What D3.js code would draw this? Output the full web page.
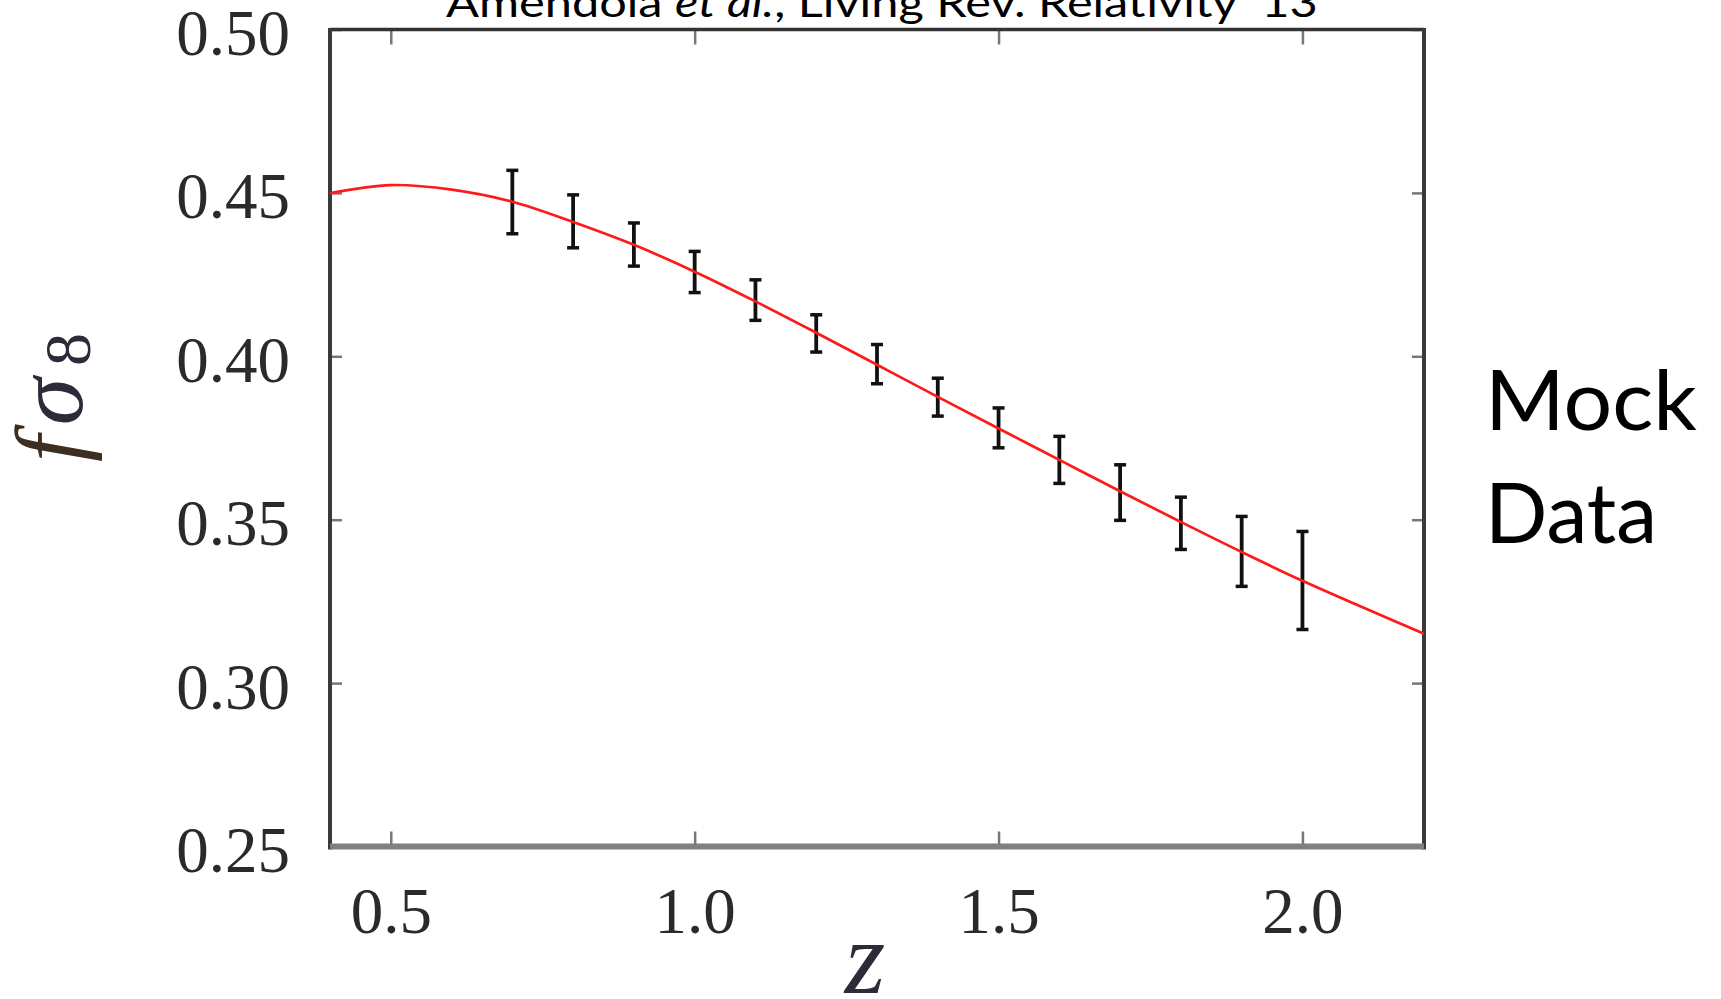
<!DOCTYPE html>
<html>
<head>
<meta charset="utf-8">
<script src="https://cdn.jsdelivr.net/npm/d3@7"></script>
<style>
  html, body { margin: 0; padding: 0; background: #fff; overflow: hidden; }
  text { white-space: pre; }
</style>
</head>
<body>
<div id="chart"></div>
<script>
// theory curve (red), every 0.1 in z
const z_theory = [0.4, 0.5, 0.6, 0.7, 0.8, 0.9, 1.0, 1.1, 1.2, 1.3, 1.4, 1.5, 1.6, 1.7, 1.8, 1.9, 2.0, 2.1, 2.2];
const fs8_theory = [0.4499, 0.4524, 0.4510, 0.4473, 0.4411, 0.4341, 0.4259, 0.4168, 0.4072, 0.3974, 0.3876, 0.3779, 0.3683, 0.3587, 0.3493, 0.3401, 0.3313, 0.3231, 0.3151];

// mock data points with error bars
const z_mock = [0.7, 0.8, 0.9, 1.0, 1.1, 1.2, 1.3, 1.4, 1.5, 1.6, 1.7, 1.8, 1.9, 2.0];
const fs8_mock = [0.4472, 0.4413, 0.4342, 0.4258, 0.4172, 0.4070, 0.3976, 0.3875, 0.3781, 0.3683, 0.3583, 0.3489, 0.3403, 0.3314];
const fs8_err = [0.0097, 0.0081, 0.0066, 0.0063, 0.0062, 0.0057, 0.0060, 0.0058, 0.0061, 0.0072, 0.0085, 0.0080, 0.0107, 0.0150];

const x_ticks = [0.5, 1.0, 1.5, 2.0];
const y_ticks = [0.25, 0.30, 0.35, 0.40, 0.45, 0.50];

const width = 1721;
const height = 999;
const plot = { left: 330, right: 1424, top: 29.5, bottom: 846.5 };

const x_scale = d3.scaleLinear()
  .domain([0.4, 2.2])
  .range([plot.left, plot.right]);
const y_scale = d3.scaleLinear()
  .domain([0.25, 0.50])
  .range([plot.bottom, plot.top]);

const svg = d3.select('#chart')
  .append('svg')
    .attr('width', width)
    .attr('height', height);

svg.append('defs').append('clipPath')
    .attr('id', 'plot-clip')
  .append('rect')
    .attr('x', plot.left)
    .attr('y', plot.top)
    .attr('width', plot.right - plot.left)
    .attr('height', plot.bottom - plot.top);

// Axes, ticks pointing inward on all four sides
const serif = '"Liberation Serif", "DejaVu Serif", serif';

svg.append('g')
    .attr('class', 'x-axis')
    .attr('transform', `translate(0,${plot.bottom})`)
    .call(d3.axisBottom(x_scale).tickValues(x_ticks).tickSize(-15).tickPadding(40)
      .tickFormat(d3.format('.1f')));
svg.append('g')
    .attr('class', 'x-axis-top')
    .attr('transform', `translate(0,${plot.top})`)
    .call(d3.axisTop(x_scale).tickValues(x_ticks).tickSize(-15).tickFormat(''));
svg.append('g')
    .attr('class', 'y-axis')
    .attr('transform', `translate(${plot.left},0)`)
    .call(d3.axisLeft(y_scale).tickValues(y_ticks).tickSize(-12).tickPadding(40)
      .tickFormat(d3.format('.2f')));
svg.append('g')
    .attr('class', 'y-axis-right')
    .attr('transform', `translate(${plot.right},0)`)
    .call(d3.axisRight(y_scale).tickValues(y_ticks).tickSize(-12).tickFormat(''));

svg.selectAll('.domain').remove();
svg.selectAll('.tick line')
    .attr('stroke', '#777')
    .attr('stroke-width', 2.5);
svg.selectAll('.tick text')
    .attr('font-family', serif)
    .attr('font-size', 65)
    .attr('fill', '#2a2a2a');
svg.selectAll('.y-axis .tick text').attr('dy', '0.385em');
svg.selectAll('.x-axis .tick text').attr('dy', '0.71em');

// frame
const frame = [
  { x1: plot.left, y1: plot.top, x2: plot.right, y2: plot.top, w: 3.5, c: '#333' },
  { x1: plot.left, y1: plot.top - 1.5, x2: plot.left, y2: plot.bottom + 3, w: 4, c: '#3a3a3a' },
  { x1: plot.right, y1: plot.top - 1.5, x2: plot.right, y2: plot.bottom + 3, w: 4, c: '#3a3a3a' },
  { x1: plot.left, y1: plot.bottom, x2: plot.right, y2: plot.bottom, w: 6, c: '#808080' }
];
svg.selectAll('.frame')
    .data(frame)
  .join('line')
    .attr('class', 'frame')
    .attr('x1', d => d.x1).attr('y1', d => d.y1)
    .attr('x2', d => d.x2).attr('y2', d => d.y2)
    .attr('stroke', d => d.c)
    .attr('stroke-width', d => d.w);

// error bars
const cap = 6;
const bars = svg.append('g').attr('class', 'bars');
const points = z_mock.map((z, i) => ({ z, v: fs8_mock[i], e: fs8_err[i] }));
bars.selectAll('.stem')
    .data(points)
  .join('line')
    .attr('class', 'stem')
    .attr('x1', d => x_scale(d.z)).attr('x2', d => x_scale(d.z))
    .attr('y1', d => y_scale(d.v + d.e)).attr('y2', d => y_scale(d.v - d.e))
    .attr('stroke', '#111')
    .attr('stroke-width', 3.8);
bars.selectAll('.cap-top')
    .data(points)
  .join('line')
    .attr('class', 'cap-top')
    .attr('x1', d => x_scale(d.z) - cap).attr('x2', d => x_scale(d.z) + cap)
    .attr('y1', d => y_scale(d.v + d.e)).attr('y2', d => y_scale(d.v + d.e))
    .attr('stroke', '#111')
    .attr('stroke-width', 3.5);
bars.selectAll('.cap-bottom')
    .data(points)
  .join('line')
    .attr('class', 'cap-bottom')
    .attr('x1', d => x_scale(d.z) - cap).attr('x2', d => x_scale(d.z) + cap)
    .attr('y1', d => y_scale(d.v - d.e)).attr('y2', d => y_scale(d.v - d.e))
    .attr('stroke', '#111')
    .attr('stroke-width', 3.5);

// theory curve
const line = d3.line()
  .x(d => x_scale(d[0]))
  .y(d => y_scale(d[1]))
  .curve(d3.curveCatmullRom);
svg.append('path')
    .datum(z_theory.map((z, i) => [z, fs8_theory[i]]))
    .attr('clip-path', 'url(#plot-clip)')
    .attr('d', line)
    .attr('fill', 'none')
    .attr('stroke', '#ff1a1a')
    .attr('stroke-width', 2.7);

// axis labels
const label_color = '#2e2a3a';
const ylab = svg.append('text')
    .attr('transform', 'translate(82,462) rotate(-90)')
    .attr('font-family', serif)
    .attr('fill', label_color);
ylab.append('tspan').attr('font-size', 96).attr('font-style', 'italic').attr('fill', '#3d2e22').text('f');
ylab.append('tspan').attr('font-size', 96).attr('font-style', 'italic').attr('dx', 10).text('σ');
ylab.append('tspan').attr('font-size', 66).attr('dx', 12).attr('dy', 8).text('8');

svg.append('text')
    .attr('x', x_scale(1.3) - 12)
    .attr('y', 993)
    .attr('text-anchor', 'middle')
    .attr('font-family', serif)
    .attr('font-style', 'italic')
    .attr('font-size', 104)
    .attr('fill', label_color)
    .text('z');

// slide texts (Calibri in the original; Lato squeezed to the same width)
const sans = 'Lato, "Open Sans", sans-serif';
let fit = (sel, x, y, w) => {
  const bw = sel.node().getBBox().width;
  sel.attr('transform', `translate(${x},${y}) scale(${w / bw},1)`);
};

const title = svg.append('text')
    .attr('font-family', sans)
    .attr('font-size', 41)
    .attr('fill', '#000');
title.append('tspan').text('Amendola ');
title.append('tspan').attr('font-style', 'italic').text('et al.');
title.append('tspan').text(', Living Rev. Relativity  13');
fit(title, 446, 16.7, 872);

const mock = svg.append('text')
    .attr('font-family', sans)
    .attr('font-size', 83)
    .attr('fill', '#000')
    .text('Mock');
fit(mock, 1485, 430, 212);
const data_lbl = svg.append('text')
    .attr('font-family', sans)
    .attr('font-size', 83)
    .attr('fill', '#000')
    .text('Data');
fit(data_lbl, 1485, 543, 172);
</script>
</body>
</html>
